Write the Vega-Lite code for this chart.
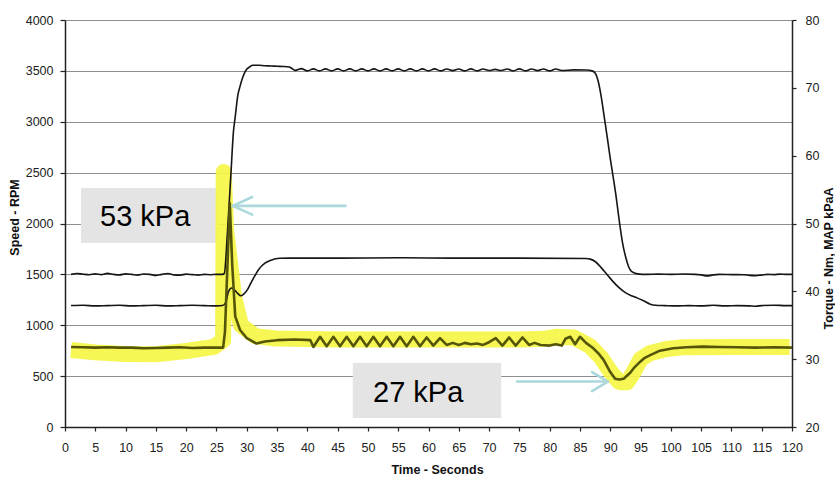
{
  "$schema": "https://vega.github.io/schema/vega-lite/v6.json",
  "width": 727,
  "height": 407,
  "autosize": {"type": "none"},
  "padding": {"left": 65, "top": 20, "right": 43, "bottom": 52},
  "background": "white",
  "config": {
    "font": "Liberation Sans",
    "view": {"stroke": null},
    "axis": {
      "grid": false,
      "labelFont": "Liberation Sans",
      "labelFontSize": 12.5,
      "labelColor": "#222222",
      "titleFont": "Liberation Sans",
      "titleFontSize": 12.5,
      "titleFontWeight": "bold",
      "titleColor": "#111111",
      "domainColor": "#222222",
      "domainWidth": 1.5,
      "tickColor": "#222222",
      "tickWidth": 1.2
    }
  },
  "datasets": {
    "speed": [
      {"t": 1, "v": 1500}, {"t": 2, "v": 1508}, {"t": 3, "v": 1502}, {"t": 4, "v": 1497},
      {"t": 5, "v": 1505}, {"t": 6, "v": 1498}, {"t": 7, "v": 1510}, {"t": 8, "v": 1500},
      {"t": 9, "v": 1495}, {"t": 10, "v": 1505}, {"t": 11, "v": 1500}, {"t": 12, "v": 1493},
      {"t": 13, "v": 1503}, {"t": 14, "v": 1500}, {"t": 15, "v": 1490}, {"t": 16, "v": 1500},
      {"t": 17, "v": 1508}, {"t": 18, "v": 1495}, {"t": 19, "v": 1493}, {"t": 20, "v": 1502},
      {"t": 21, "v": 1498}, {"t": 22, "v": 1493}, {"t": 23, "v": 1500}, {"t": 24, "v": 1497},
      {"t": 25, "v": 1500}, {"t": 26, "v": 1500}, {"t": 26.3, "v": 1510}, {"t": 26.8, "v": 1900},
      {"t": 27.4, "v": 2500}, {"t": 27.8, "v": 2900}, {"t": 28.1, "v": 3050}, {"t": 28.5, "v": 3250},
      {"t": 28.9, "v": 3350}, {"t": 29.3, "v": 3430}, {"t": 29.8, "v": 3500}, {"t": 30.5, "v": 3540},
      {"t": 31, "v": 3555}, {"t": 32, "v": 3555}, {"t": 33, "v": 3550}, {"t": 34, "v": 3548},
      {"t": 35, "v": 3545}, {"t": 36, "v": 3543}, {"t": 37, "v": 3538}, {"t": 37.5, "v": 3522},
      {"t": 38, "v": 3505}, {"t": 39, "v": 3522}, {"t": 40, "v": 3500}, {"t": 41, "v": 3520},
      {"t": 42, "v": 3500}, {"t": 43, "v": 3520}, {"t": 44, "v": 3500}, {"t": 45, "v": 3520},
      {"t": 46, "v": 3500}, {"t": 47, "v": 3520}, {"t": 48, "v": 3500}, {"t": 49, "v": 3520},
      {"t": 50, "v": 3500}, {"t": 51, "v": 3520}, {"t": 52, "v": 3500}, {"t": 53, "v": 3520},
      {"t": 54, "v": 3500}, {"t": 55, "v": 3520}, {"t": 56, "v": 3500}, {"t": 57, "v": 3520},
      {"t": 58, "v": 3500}, {"t": 59, "v": 3520}, {"t": 60, "v": 3500}, {"t": 61, "v": 3520},
      {"t": 62, "v": 3500}, {"t": 63, "v": 3518}, {"t": 64, "v": 3502}, {"t": 65, "v": 3518},
      {"t": 66, "v": 3500}, {"t": 67, "v": 3520}, {"t": 68, "v": 3500}, {"t": 69, "v": 3518},
      {"t": 70, "v": 3503}, {"t": 71, "v": 3515}, {"t": 72, "v": 3503}, {"t": 73, "v": 3518},
      {"t": 74, "v": 3500}, {"t": 75, "v": 3520}, {"t": 76, "v": 3500}, {"t": 77, "v": 3518},
      {"t": 78, "v": 3502}, {"t": 79, "v": 3518}, {"t": 80, "v": 3500}, {"t": 81, "v": 3518},
      {"t": 82, "v": 3503}, {"t": 84, "v": 3510}, {"t": 86, "v": 3508}, {"t": 87, "v": 3500},
      {"t": 87.5, "v": 3480}, {"t": 88, "v": 3400}, {"t": 88.5, "v": 3250}, {"t": 89, "v": 3050},
      {"t": 89.5, "v": 2850}, {"t": 90, "v": 2640}, {"t": 90.5, "v": 2450}, {"t": 91, "v": 2250},
      {"t": 91.5, "v": 2020}, {"t": 92, "v": 1820}, {"t": 92.5, "v": 1680}, {"t": 93, "v": 1580},
      {"t": 93.5, "v": 1530}, {"t": 94.5, "v": 1505}, {"t": 96, "v": 1500}, {"t": 98, "v": 1502},
      {"t": 100, "v": 1500}, {"t": 102, "v": 1503}, {"t": 104, "v": 1500}, {"t": 105, "v": 1495},
      {"t": 106, "v": 1485}, {"t": 107, "v": 1495}, {"t": 108, "v": 1500}, {"t": 110, "v": 1498},
      {"t": 112, "v": 1497}, {"t": 113, "v": 1490}, {"t": 114, "v": 1487}, {"t": 115, "v": 1493},
      {"t": 116, "v": 1500}, {"t": 117, "v": 1498}, {"t": 118, "v": 1502}, {"t": 119, "v": 1500},
      {"t": 120, "v": 1500}
    ],
    "torque": [
      {"t": 1, "v": 37.9}, {"t": 3, "v": 37.95}, {"t": 5, "v": 37.85}, {"t": 7, "v": 37.9},
      {"t": 9, "v": 37.95}, {"t": 11, "v": 37.85}, {"t": 13, "v": 37.9}, {"t": 15, "v": 37.95},
      {"t": 17, "v": 37.85}, {"t": 19, "v": 37.9}, {"t": 21, "v": 37.95}, {"t": 23, "v": 37.9},
      {"t": 25, "v": 37.85}, {"t": 26, "v": 37.9}, {"t": 26.5, "v": 38.3}, {"t": 27, "v": 40.0},
      {"t": 27.5, "v": 40.5}, {"t": 28, "v": 40.2}, {"t": 28.5, "v": 39.7}, {"t": 29, "v": 39.35},
      {"t": 29.5, "v": 39.6}, {"t": 30, "v": 40.1}, {"t": 30.5, "v": 40.9}, {"t": 31, "v": 41.75},
      {"t": 32, "v": 43.25}, {"t": 33, "v": 44.15}, {"t": 34, "v": 44.6}, {"t": 35.5, "v": 44.87},
      {"t": 37, "v": 44.9}, {"t": 45, "v": 44.9}, {"t": 55, "v": 44.95}, {"t": 65, "v": 44.9},
      {"t": 75, "v": 44.9}, {"t": 86, "v": 44.85}, {"t": 86.7, "v": 44.75}, {"t": 87.5, "v": 44.4},
      {"t": 88.5, "v": 43.5}, {"t": 89.5, "v": 42.45}, {"t": 90.5, "v": 41.4}, {"t": 91.5, "v": 40.5},
      {"t": 92.5, "v": 39.8}, {"t": 93.5, "v": 39.35}, {"t": 94.5, "v": 39.0}, {"t": 95.5, "v": 38.6},
      {"t": 96.5, "v": 38.15}, {"t": 97.5, "v": 37.95}, {"t": 99, "v": 37.9}, {"t": 101, "v": 37.85},
      {"t": 103, "v": 37.9}, {"t": 105, "v": 37.85}, {"t": 107, "v": 37.95}, {"t": 109, "v": 37.85},
      {"t": 111, "v": 37.9}, {"t": 113, "v": 37.85}, {"t": 114, "v": 37.8}, {"t": 115, "v": 37.9},
      {"t": 117, "v": 37.95}, {"t": 119, "v": 37.9}, {"t": 120, "v": 37.9}
    ],
    "map": [
      {"t": 1, "v": 31.8}, {"t": 3, "v": 31.75}, {"t": 5, "v": 31.7}, {"t": 7, "v": 31.75},
      {"t": 9, "v": 31.7}, {"t": 11, "v": 31.7}, {"t": 13, "v": 31.6}, {"t": 15, "v": 31.65},
      {"t": 17, "v": 31.7}, {"t": 19, "v": 31.75}, {"t": 21, "v": 31.65}, {"t": 23, "v": 31.7},
      {"t": 25, "v": 31.7}, {"t": 26.1, "v": 31.7}, {"t": 26.4, "v": 34}, {"t": 27.2, "v": 53},
      {"t": 27.6, "v": 44}, {"t": 28.1, "v": 36.3}, {"t": 28.9, "v": 34.3}, {"t": 30, "v": 33.1},
      {"t": 31.6, "v": 32.3}, {"t": 33, "v": 32.6}, {"t": 35, "v": 32.8}, {"t": 38, "v": 32.9},
      {"t": 40.5, "v": 32.8}, {"t": 41, "v": 31.8}, {"t": 42.1, "v": 33.3}, {"t": 43.2, "v": 31.9},
      {"t": 44.3, "v": 33.3}, {"t": 45.4, "v": 31.9}, {"t": 46.5, "v": 33.3}, {"t": 47.6, "v": 31.9},
      {"t": 48.7, "v": 33.3}, {"t": 49.8, "v": 31.9}, {"t": 50.9, "v": 33.3}, {"t": 52, "v": 31.9},
      {"t": 53.1, "v": 33.3}, {"t": 54.2, "v": 31.9}, {"t": 55.3, "v": 33.3}, {"t": 56.4, "v": 31.9},
      {"t": 57.5, "v": 33.3}, {"t": 58.6, "v": 31.9}, {"t": 59.7, "v": 33.2}, {"t": 60.8, "v": 32.0},
      {"t": 61.9, "v": 33.1}, {"t": 63, "v": 32.1}, {"t": 64, "v": 32.4}, {"t": 65, "v": 32.1},
      {"t": 66, "v": 32.4}, {"t": 67, "v": 32.2}, {"t": 68, "v": 32.3}, {"t": 69, "v": 32.1},
      {"t": 70, "v": 32.5}, {"t": 71.1, "v": 33.1}, {"t": 72.2, "v": 32.0}, {"t": 73.3, "v": 33.2},
      {"t": 74.4, "v": 32.0}, {"t": 75.5, "v": 33.2}, {"t": 76.6, "v": 32.1}, {"t": 77.5, "v": 32.4},
      {"t": 78.5, "v": 32.1}, {"t": 80, "v": 32.0}, {"t": 81, "v": 32.2}, {"t": 82, "v": 32.0},
      {"t": 82.6, "v": 33.0}, {"t": 83.4, "v": 33.3}, {"t": 84.2, "v": 32.2}, {"t": 85, "v": 33.3},
      {"t": 86, "v": 32.4}, {"t": 87.2, "v": 31.6}, {"t": 88.1, "v": 30.8}, {"t": 88.9, "v": 29.9},
      {"t": 90, "v": 28.1}, {"t": 90.8, "v": 27.1}, {"t": 91.5, "v": 27.0}, {"t": 92.2, "v": 27.1},
      {"t": 92.8, "v": 27.6}, {"t": 93.3, "v": 28.0}, {"t": 94, "v": 28.8}, {"t": 94.9, "v": 29.6},
      {"t": 95.7, "v": 30.2}, {"t": 96.6, "v": 30.6}, {"t": 98.2, "v": 31.25}, {"t": 100.4, "v": 31.6},
      {"t": 102.6, "v": 31.75}, {"t": 105.3, "v": 31.85}, {"t": 108, "v": 31.8}, {"t": 111, "v": 31.75},
      {"t": 114, "v": 31.7}, {"t": 117, "v": 31.75}, {"t": 120, "v": 31.7}
    ],
    "highlight": [
      {"t": 1, "v": 31.35}, {"t": 5, "v": 31.0}, {"t": 9.9, "v": 30.76}, {"t": 15, "v": 30.72},
      {"t": 20, "v": 31.2}, {"t": 24.6, "v": 31.8}, {"t": 26.1, "v": 32.8}, {"t": 26.2, "v": 57.6},
      {"t": 26.6, "v": 49.0}, {"t": 27.9, "v": 39.2}, {"t": 29.05, "v": 35.0}, {"t": 31.4, "v": 33.4},
      {"t": 34.7, "v": 33.05}, {"t": 45, "v": 32.9}, {"t": 60, "v": 32.9}, {"t": 75, "v": 32.9},
      {"t": 79, "v": 33.0}, {"t": 81, "v": 33.3}, {"t": 84, "v": 33.2}, {"t": 86.7, "v": 31.9},
      {"t": 88.5, "v": 30.2}, {"t": 90, "v": 28.2}, {"t": 91.5, "v": 26.6}, {"t": 92.8, "v": 26.6},
      {"t": 93.8, "v": 28.0}, {"t": 95, "v": 30.0}, {"t": 96.6, "v": 30.9}, {"t": 99.3, "v": 31.5},
      {"t": 102, "v": 31.75}, {"t": 110, "v": 31.8}, {"t": 119.6, "v": 31.8}
    ],
    "boxes": [
      {"t": 2.64, "t2": 25.3, "v": 1808, "v2": 2349},
      {"t": 47.5, "t2": 72.0, "v": 88, "v2": 629}
    ],
    "labels": [
      {"t": 5.78, "v": 1975, "label": "53 kPa"},
      {"t": 50.84, "v": 246, "label": "27 kPa"}
    ],
    "arrows": [
      {"t": 46.3, "t2": 27.7, "v": 52.6, "v2": 52.6},
      {"t": 27.7, "t2": 30.9, "v": 52.6, "v2": 53.9},
      {"t": 27.7, "t2": 30.9, "v": 52.6, "v2": 51.3},
      {"t": 74.6, "t2": 89.6, "v": 26.7, "v2": 26.7},
      {"t": 89.6, "t2": 87.0, "v": 26.7, "v2": 28.1},
      {"t": 89.6, "t2": 87.0, "v": 26.7, "v2": 25.3}
    ]
  },
  "encoding": {
    "x": {
      "field": "t",
      "type": "quantitative",
      "scale": {"domain": [0, 120], "nice": false, "zero": false},
      "axis": {
        "title": "Time - Seconds",
        "values": [0, 5, 10, 15, 20, 25, 30, 35, 40, 45, 50, 55, 60, 65, 70, 75, 80, 85, 90, 95, 100, 105, 110, 115, 120],
        "format": "d",
        "tickSize": 4,
        "labelPadding": 10,
        "labelFlush": false,
        "titleX": 372,
        "titleY": 46,
        "titleBaseline": "alphabetic"
      }
    }
  },
  "layer": [
    {
      "encoding": {
        "y": {
          "field": "v",
          "type": "quantitative",
          "scale": {"domain": [0, 4000], "nice": false},
          "axis": {
            "orient": "left",
            "title": "Speed - RPM",
            "values": [0, 500, 1000, 1500, 2000, 2500, 3000, 3500, 4000],
            "format": "d",
            "grid": true,
            "gridColor": "#8e8e8e",
            "gridWidth": 1.2,
            "tickSize": 5,
            "labelPadding": 7,
            "labelFlush": false,
            "titleAngle": 270,
            "titleX": -47,
            "titleY": 197,
            "titleAlign": "center",
            "titleBaseline": "alphabetic"
          }
        }
      },
      "layer": [
        {
          "data": {"name": "boxes"},
          "mark": {"type": "rect", "color": "#e4e4e4"},
          "encoding": {"x2": {"field": "t2"}, "y2": {"field": "v2"}}
        },
        {
          "data": {"name": "labels"},
          "mark": {"type": "text", "align": "left", "baseline": "alphabetic", "fontSize": 29, "color": "#000000", "font": "Liberation Sans"},
          "encoding": {"text": {"field": "label"}}
        }
      ]
    },
    {
      "data": {"name": "highlight"},
      "mark": {"type": "line", "color": "#f5f545", "strokeWidth": 16, "opacity": 0.92, "strokeJoin": "round", "strokeCap": "butt"},
      "encoding": {
        "y": {"field": "v", "type": "quantitative", "scale": {"domain": [20, 80], "nice": false}, "axis": null}
      }
    },
    {
      "data": {"name": "speed"},
      "mark": {"type": "line", "color": "#151515", "strokeWidth": 1.6, "interpolate": "monotone"},
      "encoding": {
        "y": {"field": "v", "type": "quantitative", "scale": {"domain": [0, 4000], "nice": false}, "axis": null}
      }
    },
    {
      "encoding": {
        "y": {
          "field": "v",
          "type": "quantitative",
          "scale": {"domain": [20, 80], "nice": false},
          "axis": {
            "orient": "right",
            "title": "Torque - Nm, MAP kPaA",
            "values": [20, 30, 40, 50, 60, 70, 80],
            "format": "d",
            "tickSize": 4,
            "labelPadding": 9,
            "labelFlush": false,
            "titleAngle": 270,
            "titleX": 40,
            "titleY": 238,
            "titleAlign": "center",
            "titleBaseline": "alphabetic"
          }
        }
      },
      "layer": [
        {
          "data": {"name": "torque"},
          "mark": {"type": "line", "color": "#151515", "strokeWidth": 1.6, "interpolate": "monotone"}
        },
        {
          "data": {"name": "map"},
          "mark": {"type": "line", "color": "#55550a", "strokeWidth": 2.6, "strokeJoin": "round"}
        },
        {
          "data": {"name": "arrows"},
          "mark": {"type": "rule", "color": "#acd8dc", "strokeWidth": 2.6, "strokeCap": "round"},
          "encoding": {"x2": {"field": "t2"}, "y2": {"field": "v2"}}
        }
      ]
    }
  ],
  "resolve": {"scale": {"y": "independent"}}
}
